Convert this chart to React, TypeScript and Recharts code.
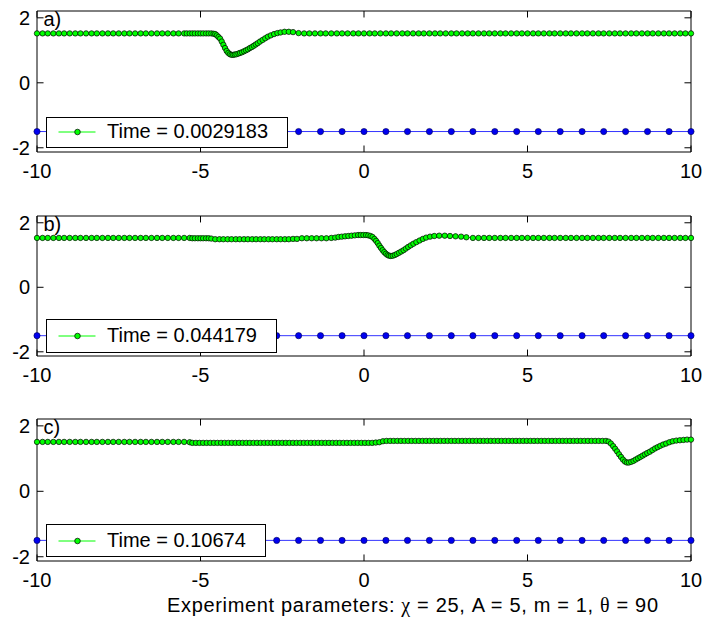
import { LineChart, Line, XAxis, YAxis, ReferenceLine } from "recharts";

const FONT = "'Liberation Sans', Arial, Helvetica, sans-serif";
const GREEK = "'Liberation Serif', 'DejaVu Serif', serif";

const X_TICKS = [-10, -5, 0, 5, 10];
const Y_TICKS = [-2, 0, 2];
const X_DOMAIN: [number, number] = [-10, 10];
const Y_DOMAIN: [number, number] = [-2.13, 2.21];

const PANEL_LABELS = ["a)", "b)", "c)"];
const TIMES = ["0.0029183", "0.044179", "0.10674"];

// blue series (same in every panel)
const BLUE: [number, number][] = [
  [-10, -1.5], [-9.33, -1.5], [-8.67, -1.5], [-8, -1.5], [-7.33, -1.5], [-6.67, -1.5], [-6, -1.5], [-5.33, -1.5],
  [-4.67, -1.5], [-4, -1.5], [-3.33, -1.5], [-2.67, -1.5], [-2, -1.5], [-1.33, -1.5], [-0.67, -1.5], [0, -1.5],
  [0.67, -1.5], [1.33, -1.5], [2, -1.5], [2.67, -1.5], [3.33, -1.5], [4, -1.5], [4.67, -1.5], [5.33, -1.5],
  [6, -1.5], [6.67, -1.5], [7.33, -1.5], [8, -1.5], [8.67, -1.5], [9.33, -1.5], [10, -1.5],
];

// green series, panel a)
const GREEN_A: [number, number][] = [
  [-10, 1.52], [-9.83, 1.52], [-9.67, 1.52], [-9.5, 1.52], [-9.33, 1.52], [-9.17, 1.52], [-9, 1.52], [-8.83, 1.52],
  [-8.67, 1.52], [-8.5, 1.52], [-8.33, 1.52], [-8.17, 1.52], [-8, 1.52], [-7.83, 1.52], [-7.67, 1.52], [-7.5, 1.52],
  [-7.33, 1.52], [-7.17, 1.52], [-7, 1.52], [-6.83, 1.52], [-6.67, 1.52], [-6.5, 1.52], [-6.33, 1.52], [-6.17, 1.52],
  [-6, 1.52], [-5.83, 1.52], [-5.67, 1.52], [-5.5, 1.52],
  [-5.42, 1.52], [-5.33, 1.52], [-5.25, 1.52], [-5.17, 1.52], [-5.08, 1.52], [-5, 1.52], [-4.92, 1.52], [-4.83, 1.52],
  [-4.75, 1.52], [-4.67, 1.52], [-4.6, 1.51],
  [-4.55, 1.5], [-4.5, 1.46], [-4.45, 1.41], [-4.4, 1.36], [-4.35, 1.27], [-4.3, 1.17], [-4.25, 1.07], [-4.2, 0.98],
  [-4.15, 0.92], [-4.1, 0.88], [-4.05, 0.86], [-4, 0.86], [-3.95, 0.87], [-3.9, 0.88], [-3.84, 0.9], [-3.79, 0.92],
  [-3.73, 0.94], [-3.67, 0.97], [-3.61, 1], [-3.55, 1.03], [-3.49, 1.07], [-3.43, 1.1], [-3.37, 1.14], [-3.31, 1.18],
  [-3.25, 1.22], [-3.18, 1.27], [-3.1, 1.32], [-3.02, 1.37], [-2.94, 1.42], [-2.85, 1.46], [-2.75, 1.5], [-2.65, 1.53],
  [-2.55, 1.55], [-2.43, 1.57], [-2.3, 1.57], [-2.17, 1.56], [-2, 1.53],
  [-1.83, 1.52], [-1.67, 1.52], [-1.5, 1.52], [-1.33, 1.52], [-1.17, 1.52], [-1, 1.52], [-0.83, 1.52], [-0.67, 1.52],
  [-0.5, 1.52], [-0.33, 1.52], [-0.17, 1.52], [0, 1.52], [0.17, 1.52], [0.33, 1.52], [0.5, 1.52], [0.67, 1.52],
  [0.83, 1.52], [1, 1.52], [1.17, 1.52], [1.33, 1.52], [1.5, 1.52], [1.67, 1.52], [1.83, 1.52], [2, 1.52],
  [2.17, 1.52], [2.33, 1.52], [2.5, 1.52], [2.67, 1.52], [2.83, 1.52], [3, 1.52], [3.17, 1.52], [3.33, 1.52],
  [3.5, 1.52], [3.67, 1.52], [3.83, 1.52], [4, 1.52], [4.17, 1.52], [4.33, 1.52], [4.5, 1.52], [4.67, 1.52],
  [4.83, 1.52], [5, 1.52], [5.17, 1.52], [5.33, 1.52], [5.5, 1.52], [5.67, 1.52], [5.83, 1.52], [6, 1.52],
  [6.17, 1.52], [6.33, 1.52], [6.5, 1.52], [6.67, 1.52], [6.83, 1.52], [7, 1.52], [7.17, 1.52], [7.33, 1.52],
  [7.5, 1.52], [7.67, 1.52], [7.83, 1.52], [8, 1.52], [8.17, 1.52], [8.33, 1.52], [8.5, 1.52], [8.67, 1.52],
  [8.83, 1.52], [9, 1.52], [9.17, 1.52], [9.33, 1.52], [9.5, 1.52], [9.67, 1.52], [9.83, 1.52], [10, 1.52],
];

// green series, panel b)
const GREEN_B: [number, number][] = [
  [-10, 1.53], [-9.83, 1.53], [-9.67, 1.53], [-9.5, 1.53], [-9.33, 1.53], [-9.17, 1.53], [-9, 1.53], [-8.83, 1.53],
  [-8.67, 1.53], [-8.5, 1.53], [-8.33, 1.53], [-8.17, 1.53], [-8, 1.53], [-7.83, 1.53], [-7.67, 1.53], [-7.5, 1.53],
  [-7.33, 1.53], [-7.17, 1.53], [-7, 1.53], [-6.83, 1.53], [-6.67, 1.53], [-6.5, 1.53], [-6.33, 1.53], [-6.17, 1.53],
  [-6, 1.53], [-5.83, 1.53], [-5.67, 1.53], [-5.5, 1.53], [-5.33, 1.53],
  [-5.25, 1.52], [-5.17, 1.52], [-5.08, 1.52], [-5, 1.52], [-4.92, 1.52], [-4.83, 1.52], [-4.75, 1.52], [-4.67, 1.51],
  [-4.55, 1.49], [-4.42, 1.49], [-4.3, 1.49], [-4.17, 1.49], [-4.05, 1.49], [-3.92, 1.49], [-3.8, 1.49], [-3.67, 1.49],
  [-3.55, 1.49], [-3.42, 1.49], [-3.3, 1.49], [-3.17, 1.49], [-3.05, 1.49], [-2.92, 1.49], [-2.8, 1.49], [-2.67, 1.49],
  [-2.55, 1.49], [-2.42, 1.49], [-2.3, 1.49], [-2.17, 1.5], [-2.05, 1.5],
  [-1.9, 1.52], [-1.75, 1.52], [-1.6, 1.52], [-1.45, 1.52], [-1.3, 1.52], [-1.15, 1.52], [-1, 1.53],
  [-0.88, 1.54], [-0.78, 1.56], [-0.68, 1.57], [-0.58, 1.58], [-0.48, 1.59], [-0.38, 1.6], [-0.28, 1.61], [-0.18, 1.62],
  [-0.1, 1.62], [-0.02, 1.62], [0.06, 1.62], [0.13, 1.61], [0.2, 1.59], [0.26, 1.56], [0.32, 1.5], [0.37, 1.44],
  [0.42, 1.37], [0.47, 1.29], [0.52, 1.22], [0.57, 1.15], [0.62, 1.09], [0.67, 1.04], [0.72, 1.0], [0.77, 0.98],
  [0.82, 0.97], [0.88, 0.98], [0.94, 1.0], [1, 1.03], [1.07, 1.07], [1.14, 1.11], [1.21, 1.15], [1.28, 1.2],
  [1.35, 1.25], [1.43, 1.3], [1.51, 1.35], [1.6, 1.4], [1.7, 1.45], [1.8, 1.5], [1.9, 1.54], [2.02, 1.57],
  [2.15, 1.59], [2.3, 1.6], [2.47, 1.6], [2.63, 1.59], [2.8, 1.58], [2.97, 1.57], [3.13, 1.55],
  [3.33, 1.53], [3.5, 1.53], [3.67, 1.53], [3.83, 1.53], [4, 1.53], [4.17, 1.53], [4.33, 1.53], [4.5, 1.53],
  [4.67, 1.53], [4.83, 1.53], [5, 1.53], [5.17, 1.53], [5.33, 1.53], [5.5, 1.53], [5.67, 1.53], [5.83, 1.53],
  [6, 1.53], [6.17, 1.53], [6.33, 1.53], [6.5, 1.53], [6.67, 1.53], [6.83, 1.53], [7, 1.53], [7.17, 1.53],
  [7.33, 1.53], [7.5, 1.53], [7.67, 1.53], [7.83, 1.53], [8, 1.53], [8.17, 1.53], [8.33, 1.53], [8.5, 1.53],
  [8.67, 1.53], [8.83, 1.53], [9, 1.53], [9.17, 1.53], [9.33, 1.53], [9.5, 1.53], [9.67, 1.53], [9.83, 1.53],
  [10, 1.53],
];

// green series, panel c)
const GREEN_C: [number, number][] = [
  [-10, 1.51], [-9.83, 1.51], [-9.67, 1.51], [-9.5, 1.51], [-9.33, 1.51], [-9.17, 1.51], [-9, 1.51], [-8.83, 1.51],
  [-8.67, 1.51], [-8.5, 1.51], [-8.33, 1.51], [-8.17, 1.51], [-8, 1.51], [-7.83, 1.51], [-7.67, 1.51], [-7.5, 1.51],
  [-7.33, 1.51], [-7.17, 1.51], [-7, 1.51], [-6.83, 1.51], [-6.67, 1.51], [-6.5, 1.51], [-6.33, 1.51], [-6.17, 1.51],
  [-6, 1.51], [-5.83, 1.51], [-5.67, 1.51], [-5.5, 1.51], [-5.33, 1.5],
  [-5.25, 1.48], [-5.14, 1.48], [-5.03, 1.48], [-4.92, 1.48], [-4.81, 1.48], [-4.7, 1.48], [-4.59, 1.48], [-4.48, 1.48],
  [-4.37, 1.48], [-4.26, 1.48], [-4.15, 1.48], [-4.04, 1.48], [-3.93, 1.48], [-3.82, 1.48], [-3.71, 1.48], [-3.6, 1.48],
  [-3.49, 1.48], [-3.38, 1.48], [-3.27, 1.48], [-3.16, 1.48], [-3.05, 1.48], [-2.94, 1.48], [-2.83, 1.48], [-2.72, 1.48],
  [-2.61, 1.48], [-2.5, 1.48], [-2.39, 1.48], [-2.28, 1.48], [-2.17, 1.48], [-2.06, 1.48], [-1.95, 1.48], [-1.84, 1.48],
  [-1.73, 1.48], [-1.62, 1.48], [-1.51, 1.48], [-1.4, 1.48], [-1.29, 1.48], [-1.18, 1.48], [-1.07, 1.48], [-0.96, 1.48],
  [-0.85, 1.48], [-0.74, 1.48], [-0.63, 1.48], [-0.52, 1.48], [-0.41, 1.48], [-0.3, 1.48], [-0.19, 1.48], [-0.08, 1.48],
  [0.03, 1.48], [0.14, 1.48], [0.25, 1.48], [0.36, 1.49], [0.47, 1.5], [0.58, 1.53],
  [0.69, 1.54], [0.8, 1.54], [0.91, 1.54], [1.02, 1.54], [1.13, 1.54], [1.24, 1.54], [1.35, 1.54], [1.46, 1.54],
  [1.57, 1.54], [1.68, 1.54], [1.79, 1.54], [1.9, 1.54], [2.01, 1.54], [2.12, 1.54], [2.23, 1.54], [2.34, 1.54],
  [2.45, 1.54], [2.56, 1.54], [2.67, 1.54], [2.78, 1.54], [2.89, 1.54], [3, 1.54], [3.11, 1.54], [3.22, 1.54],
  [3.33, 1.54], [3.44, 1.54], [3.55, 1.54], [3.66, 1.54], [3.77, 1.54], [3.88, 1.54], [3.99, 1.54], [4.1, 1.54],
  [4.21, 1.54], [4.32, 1.54], [4.43, 1.54], [4.54, 1.54], [4.65, 1.54], [4.76, 1.54], [4.87, 1.54], [4.98, 1.54],
  [5.09, 1.54], [5.2, 1.54], [5.31, 1.54], [5.42, 1.54], [5.53, 1.54], [5.64, 1.54], [5.75, 1.54], [5.86, 1.54],
  [5.97, 1.54], [6.08, 1.54], [6.19, 1.54], [6.3, 1.54], [6.41, 1.54], [6.52, 1.54], [6.63, 1.54], [6.74, 1.54],
  [6.85, 1.54], [6.96, 1.54], [7.07, 1.54], [7.18, 1.54], [7.29, 1.54], [7.4, 1.54],
  [7.48, 1.52], [7.55, 1.46], [7.62, 1.38], [7.68, 1.3], [7.74, 1.22], [7.8, 1.13], [7.86, 1.05], [7.92, 0.97],
  [7.98, 0.91], [8.04, 0.88], [8.1, 0.88], [8.17, 0.9], [8.24, 0.93], [8.31, 0.97], [8.38, 1.01], [8.45, 1.05],
  [8.52, 1.09], [8.59, 1.13], [8.66, 1.17], [8.74, 1.21], [8.82, 1.26], [8.9, 1.31], [8.98, 1.35], [9.06, 1.39],
  [9.15, 1.43], [9.24, 1.46], [9.34, 1.5], [9.44, 1.53], [9.55, 1.55], [9.66, 1.56], [9.77, 1.57], [9.88, 1.58],
  [10, 1.58],
];

const GREENS = [GREEN_A, GREEN_B, GREEN_C];

// layout of the three axes boxes (pixels)
const PANELS = [
  { top: 11, h: 141, legTop: 116.7, legH: 31.6 },
  { top: 216, h: 140, legTop: 319.3, legH: 34 },
  { top: 419, h: 142, legTop: 524.3, legH: 33 },
];

const TICK_LEN = 0.2;
const toRows = (pts: [number, number][]) => pts.map(([x, y]) => ({ x, y }));

function Panel({ idx }: { idx: number }) {
  const p = PANELS[idx];
  const [y0, y1] = Y_DOMAIN;
  const [x0, x1] = X_DOMAIN;
  return (
    <div style={{ position: "absolute", left: 0, top: p.top - 10 }}>
      <LineChart width={706} height={p.h + 10 + 49} margin={{ top: 10, right: 15, bottom: 0, left: 0 }}>
        <XAxis
          type="number" dataKey="x" domain={X_DOMAIN} ticks={X_TICKS} interval={0}
          height={49} tickLine={false} tickSize={6} tickMargin={5.5}
          axisLine={{ stroke: "#000" }}
          tick={{ fill: "#000", fontSize: 20, fontFamily: FONT }}
        />
        <YAxis
          type="number" domain={Y_DOMAIN} ticks={Y_TICKS} interval={0}
          width={37} tickLine={false} tickSize={3} tickMargin={4}
          axisLine={{ stroke: "#000" }}
          tick={{ fill: "#000", fontSize: 20, fontFamily: FONT }}
        />
        <ReferenceLine y={y1} stroke="#000" />
        <ReferenceLine x={x1} stroke="#000" />
        {X_TICKS.map(t => (
          <ReferenceLine key={"xb" + t} segment={[{ x: t, y: y0 }, { x: t, y: y0 + TICK_LEN }]} stroke="#000" />
        ))}
        {X_TICKS.map(t => (
          <ReferenceLine key={"xt" + t} segment={[{ x: t, y: y1 }, { x: t, y: y1 - TICK_LEN }]} stroke="#000" />
        ))}
        {Y_TICKS.map(t => (
          <ReferenceLine key={"yl" + t} segment={[{ x: x0, y: t }, { x: x0 + TICK_LEN, y: t }]} stroke="#000" />
        ))}
        {Y_TICKS.map(t => (
          <ReferenceLine key={"yr" + t} segment={[{ x: x1, y: t }, { x: x1 - TICK_LEN, y: t }]} stroke="#000" />
        ))}
        <Line
          data={toRows(BLUE)} dataKey="y" type="linear" stroke="#0000ff" strokeWidth={0.8}
          dot={{ r: 3.1, fill: "#0000f0", stroke: "#000050", strokeWidth: 0.6, clipDot: false }}
          isAnimationActive={false}
        />
        <Line
          data={toRows(GREENS[idx])} dataKey="y" type="linear" stroke="#00ff00" strokeWidth={1}
          dot={{ r: 2.7, fill: "#00ff00", stroke: "#000", strokeWidth: 0.7, clipDot: false }}
          isAnimationActive={false}
        />
      </LineChart>
    </div>
  );
}

function LegendBox({ idx }: { idx: number }) {
  const p = PANELS[idx];
  return (
    <div
      style={{
        position: "absolute", left: 46, top: p.legTop, height: p.legH, boxSizing: "border-box",
        border: "1px solid #000", background: "#fff", display: "flex", alignItems: "center",
        paddingRight: 19,
      }}
    >
      <svg width={60} height={20} style={{ display: "block" }}>
        <line x1={11.5} x2={48.5} y1={10} y2={10} stroke="#00ff00" strokeWidth={1} />
        <circle cx={30.5} cy={10} r={2.8} fill="#00ff00" stroke="#000" strokeWidth={0.7} />
      </svg>
      <span style={{ fontFamily: FONT, fontSize: 20, lineHeight: "20px", position: "relative", top: -1, whiteSpace: "nowrap" }}>
        Time = {TIMES[idx]}
      </span>
    </div>
  );
}

export default function App() {
  return (
    <div style={{ position: "absolute", left: 0, top: 0, width: 706, height: 623, background: "#fff", overflow: "hidden" }}>
      {PANELS.map((_, i) => <Panel key={"p" + i} idx={i} />)}
      {PANELS.map((_, i) => <LegendBox key={"l" + i} idx={i} />)}
      <svg width={706} height={623} style={{ position: "absolute", left: 0, top: 0, pointerEvents: "none" }}>
        {PANELS.map((p, i) => (
          <text key={"t" + i} x={43.5} y={p.top + 14.5} fontFamily={FONT} fontSize={20} fill="#000">
            {PANEL_LABELS[i]}
          </text>
        ))}
        <text x={167} y={611.5} fontFamily={FONT} fontSize={20} fill="#000" textLength={491} lengthAdjust="spacing">
          Experiment parameters: <tspan fontFamily={GREEK}>χ</tspan> = 25, A = 5, m = 1, <tspan fontFamily={GREEK}>θ</tspan> = 90
        </text>
      </svg>
    </div>
  );
}
